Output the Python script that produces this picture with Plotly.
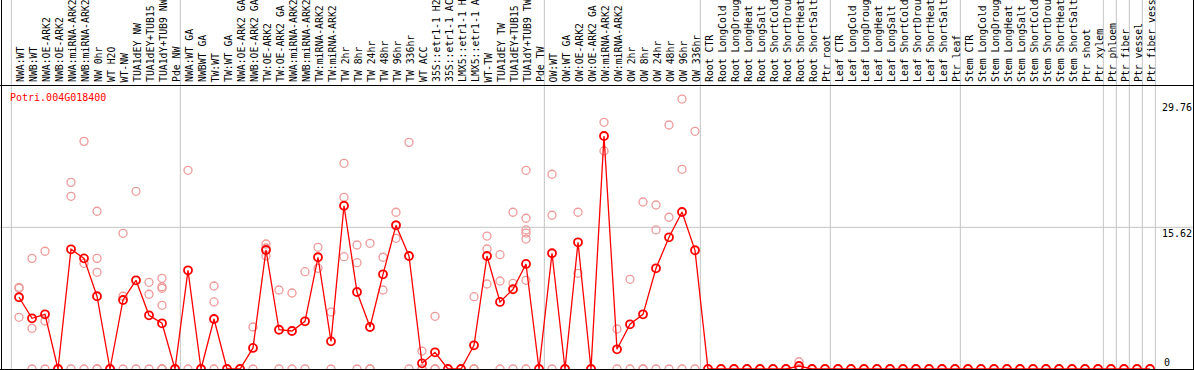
import plotly.graph_objects as go

W, H = 1194, 370

gene = "Potri.004G018400"

labels = [
    "NWA:WT", "NWB:WT", "NWA:OE-ARK2", "NWB:OE-ARK2", "NWA:miRNA-ARK2", "NWB:miRNA-ARK2",
    "NW 0hr", "WT H2O", "WT-NW", "TUA1dEY NW", "TUA1dEY+TUB15", "TUA1dY+TUB9 NW", "Pde NW",
    "NWA:WT GA", "NWBWT GA", "TW:WT", "TW:WT GA", "NWA:OE-ARK2 GA", "NWB:OE-ARK2 GA",
    "TW:OE-ARK2", "TW:OE-ARK2 GA", "NWA:miRNA-ARK2", "NWB:miRNA-ARK2", "TW:miRNA-ARK2",
    "TW:miRNA-ARK2", "TW 2hr", "TW 8hr", "TW 24hr", "TW 48hr", "TW 96hr", "TW 336hr",
    "WT ACC", "35S::etr1-1 H2", "35S::etr1-1 AC", "LMX5::etr1-1 H", "LMX5::etr1-1 A",
    "WT-TW", "TUA1dEY TW", "TUA1dEY+TUB15", "TUA1dY+TUB9 TW", "Pde TW",
    "OW:WT", "OW:WT GA", "OW:OE-ARK2", "OW:OE-ARK2 GA", "OW:miRNA-ARK2", "OW:miRNA-ARK2",
    "OW 2hr", "OW 8hr", "OW 24hr", "OW 48hr", "OW 96hr", "OW 336hr",
    "Root CTR", "Root LongCold", "Root LongDroug", "Root LongHeat", "Root LongSalt",
    "Root ShortCold", "Root ShortDrou", "Root ShortHeat", "Root ShortSalt", "Ptr root",
    "Leaf CTR", "Leaf LongCold", "Leaf LongDroug", "Leaf LongHeat", "Leaf LongSalt",
    "Leaf ShortCold", "Leaf ShortDrou", "Leaf ShortHeat", "Leaf ShortSalt", "Ptr leaf",
    "Stem CTR", "Stem LongCold", "Stem LongDroug", "Stem LongHeat", "Stem LongSalt",
    "Stem ShortCold", "Stem ShortDrou", "Stem ShortHeat", "Stem ShortSalt", "Ptr shoot",
    "Ptr xylem", "Ptr phloem", "Ptr fiber", "Ptr vessel", "Ptr fiber vess",
]

means = [
    7.91, 5.59, 6.03, 0, 13.20, 12.20, 8.02, 0, 7.61, 9.78, 5.92, 5.04, 0,
    10.88, 0, 5.51, 0, 0, 2.32, 13.12, 4.33, 4.19, 5.26, 12.32, 3.05, 18.00,
    8.49, 4.63, 10.44, 15.84, 12.46, 0.63, 1.84, 0, 0, 2.61, 12.46, 7.39, 8.79,
    11.58, 0,
    12.76, 0, 13.97, 0, 25.69, 2.17, 4.93, 6.03, 11.10, 14.52, 17.31, 13.09,
    0, 0, 0, 0, 0, 0, 0, 0.33, 0, 0,
    0, 0, 0, 0, 0, 0, 0, 0, 0, 0,
    0, 0, 0, 0, 0, 0, 0, 0, 0, 0,
    0, 0, 0, 0, 0,
]

replicates = [
    [9.01, 8.90, 5.70], [12.20, 4.49, 0], [12.98, 5.29, 0], [0, 0, 0],
    [20.58, 19.04, 0], [25.10, 11.65, 0], [17.39, 12.20, 10.66, 0, 0], [0, 0, 0],
    [14.96, 8.02, 0], [19.59, 0], [9.56, 8.24, 0], [10.00, 9.07, 8.90, 7.02, 0, 0, 0],
    [0, 0],
    [21.91, 0], [0, 0], [9.15, 7.39, 0], [0], [0], [4.63, 0], [13.78, 13.34, 12.46],
    [8.71, 0], [8.38, 0], [10.73, 0], [13.42, 11.10], [6.28, 0], [22.68, 18.93, 12.38],
    [13.67, 11.72, 0], [13.86, 0, 0], [12.32, 8.71], [17.28, 15.88, 14.41], [24.99, 0],
    [1.98, 0, 0], [5.81, 0, 0], [0], [0], [7.97, 0, 0], [14.66, 13.23, 9.37],
    [12.60, 9.70, 0], [17.28, 9.45, 0],
    [21.91, 16.62, 15.33, 14.99, 14.33, 9.78, 0], [0],
    [21.47, 16.95, 0], [0], [17.28, 10.55], [0], [27.20, 24.04], [4.41, 0], [9.89, 0],
    [18.41, 0, 0], [18.08, 15.33, 0], [26.90, 16.73, 0], [29.76, 22.02, 0], [26.21, 0],
    [0], [0], [0], [0], [0], [0], [0], [0.80, 0, 0], [0], [0],
    [0], [0], [0], [0], [0], [0], [0], [0], [0], [0],
    [0], [0], [0], [0], [0], [0], [0], [0], [0], [0],
    [0], [0], [0], [0], [0],
]

group_ends = [0, 13, 41, 53, 63, 73, 84, 85, 86, 87, 88]
scale_labels = ["29.76", "15.62", "0"]
grid_value = 15.62

# ---- geometry (pixels) ----
X0_PX, COL_PX = 19, 13
Y0_PX, Y_SCALE = 369, 9.07
LABEL_BOTTOM_PX = 83.5
HEADER_LINE_PX = 85

xs = list(range(1, len(labels) + 1))
x_range = [1 + (0 - X0_PX) / COL_PX, 1 + (W - X0_PX) / COL_PX]
y_range = [(Y0_PX - H) / Y_SCALE, Y0_PX / Y_SCALE]

def py2paper(py):
    return (H - py) / H

def px2paper(px):
    return px / W

rep_x, rep_y = [], []
for i, vals in zip(xs, replicates):
    for v in vals:
        rep_x.append(i)
        rep_y.append(v)

fig = go.Figure()
fig.add_trace(go.Scatter(
    x=rep_x, y=rep_y, mode="markers",
    marker=dict(symbol="circle-open", size=8, color="#EE9A9A", line=dict(width=1.3)),
    hoverinfo="skip", showlegend=False,
))
fig.add_trace(go.Scatter(
    x=xs, y=means, mode="lines+markers",
    line=dict(color="#FF0000", width=1.3),
    marker=dict(symbol="circle-open", size=8, color="#FF0000", line=dict(width=1.8)),
    showlegend=False,
))

shapes = []
grey = "#C4C4C4"
for k in group_ends:
    shapes.append(dict(type="line", xref="x", yref="paper", x0=k + 0.41, x1=k + 0.41,
                       y0=0, y1=1, line=dict(color=grey, width=1), layer="below"))
shapes.append(dict(type="line", xref="paper", yref="y", x0=0, x1=1,
                   y0=grid_value, y1=grid_value, line=dict(color=grey, width=1), layer="below"))
black = "#000000"
for px in (1.5, 1193.5):
    shapes.append(dict(type="line", xref="paper", yref="paper", x0=px2paper(px), x1=px2paper(px),
                       y0=0, y1=1, line=dict(color=black, width=1), layer="above"))
for py in (HEADER_LINE_PX + 0.5, Y0_PX + 0.5):
    shapes.append(dict(type="line", xref="paper", yref="paper", x0=0, x1=1,
                       y0=py2paper(py), y1=py2paper(py), line=dict(color=black, width=1.2), layer="above"))

font = "DejaVu Sans Mono"
annotations = []
for i, lab in zip(xs, labels):
    annotations.append(dict(
        x=i, xref="x", y=py2paper(LABEL_BOTTOM_PX), yref="paper", text=lab, showarrow=False,
        textangle=-90, xanchor="center", yanchor="bottom", borderpad=0, xshift=1,
        font=dict(family=font, size=9.8, color="black"),
    ))
annotations.append(dict(
    x=px2paper(9), xref="paper", y=py2paper(97), yref="paper", text=gene, showarrow=False,
    xanchor="left", yanchor="middle", borderpad=0, font=dict(family=font, size=10, color="#FF0000"),
))
for lab, py in zip(scale_labels, (107, 233, 362.5)):
    if lab == "0":
        annotations.append(dict(x=px2paper(1163), xref="paper", y=py2paper(py), yref="paper",
                                text=lab, showarrow=False, xanchor="left", yanchor="middle",
                                borderpad=0, font=dict(family=font, size=10, color="black")))
    else:
        annotations.append(dict(x=px2paper(1193), xref="paper", y=py2paper(py), yref="paper",
                                text=lab, showarrow=False, xanchor="right", yanchor="middle",
                                borderpad=0, font=dict(family=font, size=10, color="black")))

fig.update_layout(
    width=W, height=H, margin=dict(l=0, r=0, t=0, b=0, pad=0),
    paper_bgcolor="white", plot_bgcolor="white",
    xaxis=dict(range=x_range, visible=False, showgrid=False, zeroline=False, fixedrange=True),
    yaxis=dict(range=y_range, visible=False, showgrid=False, zeroline=False, fixedrange=True),
    shapes=shapes, annotations=annotations, showlegend=False,
)

fig.write_html(
    "out.html",
    config={"displayModeBar": False},
    post_script="document.body.style.margin='0px';document.body.style.overflow='hidden';",
)
